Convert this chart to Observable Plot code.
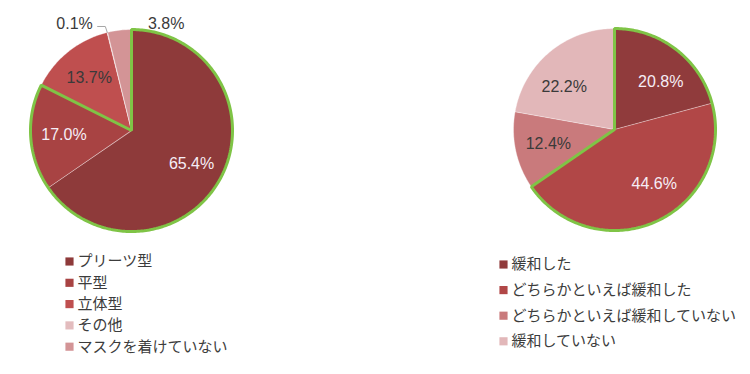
<!DOCTYPE html>
<html><head><meta charset="utf-8">
<script src="https://cdn.jsdelivr.net/npm/d3@7"></script>
<script src="https://cdn.jsdelivr.net/npm/@observablehq/plot@0.6"></script>
<style>body{margin:0;background:#fff}</style>
</head><body><div id="chart"></div>
<script>
// ---- data ----
const maskCategories = ["プリーツ型", "平型", "立体型", "その他", "マスクを着けていない"];
const maskValues = [65.4, 17.0, 13.7, 0.1, 3.8];
const maskColors = ["#8e3a3a", "#a84343", "#bf4f4f", "#e3bcbe", "#d39496"];

const reliefCategories = ["緩和した", "どちらかといえば緩和した", "どちらかといえば緩和していない", "緩和していない"];
const reliefValues = [20.8, 44.6, 12.4, 22.2];
const reliefColors = ["#903b3c", "#b14747", "#c97a7c", "#e2b7b9"];

// ---- layout ----
const W = 750, H = 374;
const pies = [
  {id: "mask", names: maskCategories, values: maskValues, colors: maskColors,
   cx: 131, cy: 130, r: 101, highlight: 2, darkText: [false, false, true, true, true],
   legendX: 69, legendY: 261, legendStep: 21.3},
  {id: "relief", names: reliefCategories, values: reliefValues, colors: reliefColors,
   cx: 614, cy: 129, r: 101, highlight: 2, darkText: [false, false, true, true],
   legendX: 503, legendY: 264, legendStep: 25.6}
];
// label placement overrides (angle in degrees from 12 o'clock, radius factor)
const labelPlace = {
  "mask-0": {a: 119, f: 0.68},
  "mask-3": {a: -28, f: 1.2}, "mask-4": {a: 18, f: 1.11},
  "relief-0": {a: 44, f: 0.66}, "relief-1": {a: 144, f: 0.67}, "relief-3": {a: 310, f: 0.65}
};

const slicePts = [], labels = [], outlines = [], legendItems = [], leaders = [];
for (const p of pies) {
  const total = d3.sum(p.values);
  let acc = 0;
  const angles = p.values.map(v => { const a0 = acc / total * 2 * Math.PI; acc += v; return [a0, acc / total * 2 * Math.PI]; });
  const arcPts = (key, a0, a1, r) => {
    const out = [{key, x: p.cx, y: p.cy}];
    const n = Math.max(2, Math.ceil((a1 - a0) / (Math.PI / 180)));
    for (let k = 0; k <= n; k++) {
      const a = a0 + (a1 - a0) * k / n;
      out.push({key, x: p.cx + r * Math.sin(a), y: p.cy - r * Math.cos(a)});
    }
    return out;
  };
  p.values.forEach((v, i) => {
    const key = p.id + "-" + i;
    const [a0, a1] = angles[i];
    for (const pt of arcPts(key, a0, a1, p.r)) slicePts.push({...pt, color: p.colors[i]});
    const o = labelPlace[key];
    let lx, ly;
    if (o) {
      const a = o.a * Math.PI / 180;
      lx = p.cx + o.f * p.r * Math.sin(a); ly = p.cy - o.f * p.r * Math.cos(a);
    } else {
      const a = (a0 + a1) / 2;
      lx = p.cx + 0.67 * p.r * Math.sin(a); ly = p.cy - 0.67 * p.r * Math.cos(a);
    }
    labels.push({x: lx, y: ly, text: v.toFixed(1) + "%", dark: p.darkText[i]});
    legendItems.push({x: p.legendX, y: p.legendY + i * p.legendStep, name: p.names[i], color: p.colors[i]});
    if (key === "mask-3") {
      const am = (a0 + a1) / 2;
      const ex = p.cx + p.r * Math.sin(am), ey = p.cy - p.r * Math.cos(am);
      leaders.push({x: lx + 23, y: ly + 3}, {x: ex - 2, y: ly + 3}, {x: ex, y: ey});
    }
  });
  const hiEnd = angles[p.highlight - 1][1];
  for (const pt of arcPts(p.id + "-hl", 0, hiEnd, p.r)) outlines.push(pt);
}

const chart = Plot.plot({
  width: W, height: H, margin: 0,
  x: {domain: [0, W], range: [0, W], axis: null},
  y: {domain: [0, H], range: [0, H], axis: null},
  style: {fontFamily: "'Liberation Sans', Arial, sans-serif", background: "#fff"},
  marks: [
    Plot.line(slicePts, {x: "x", y: "y", z: "key", fill: "color", stroke: "#ffffff", strokeOpacity: 0.45,
      strokeWidth: 0.8, curve: "linear-closed"}),
    Plot.line(outlines, {x: "x", y: "y", z: "key", stroke: "#7fc446", strokeWidth: 3, fill: "none",
      curve: "linear-closed", strokeLinejoin: "miter"}),
    Plot.line(leaders, {x: "x", y: "y", stroke: "#a6a6a6", strokeWidth: 1}),
    Plot.text(labels, {x: "x", y: "y", text: "text", fontSize: 16,
      fill: d => d.dark ? "#3a3a3a" : "#f6eef6"}),
    Plot.dot(legendItems, {x: "x", y: "y", symbol: "square", r: 4.6, fill: "color", stroke: null}),
    Plot.text(legendItems, {x: d => d.x + 8, y: "y", text: "name", textAnchor: "start", fontSize: 15,
      fill: "#3c3c3c", fontFamily: "'Noto Sans CJK JP', sans-serif"})
  ]
});
document.getElementById("chart").appendChild(chart);
</script>
</body></html>
